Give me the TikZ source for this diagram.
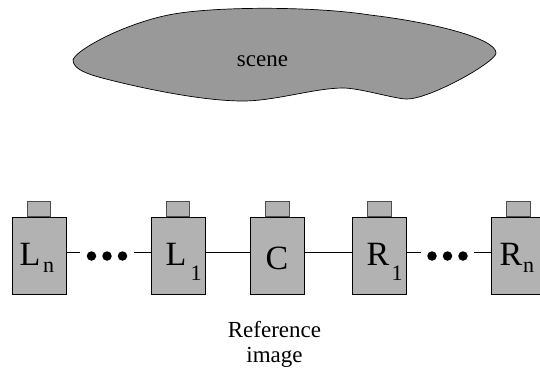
\documentclass[tikz,border=0pt]{standalone}
\usepackage{fontspec}
\setmainfont{Liberation Serif}
\usetikzlibrary{positioning}
\tikzset{
  body/.style={draw, fill=gray!60!white, line width=0.8pt, minimum width=54pt, minimum height=77pt, inner sep=0pt},
  lens/.style={draw=black!70, fill=gray!60!white, line width=0.8pt, minimum width=23.5pt, minimum height=15pt, inner sep=0pt},
  bigtext/.style={inner sep=0pt, font=\fontsize{34}{34}\selectfont},
  subtext/.style={inner sep=0pt, font=\fontsize{22}{22}\selectfont},
  plaintext/.style={inner sep=0pt, align=center, font=\fontsize{23}{25}\selectfont},
  dot/.style={circle, fill=black, minimum size=9.5pt, inner sep=0pt},
  wire/.style={line width=0.7pt}
}
\begin{document}
\begin{tikzpicture}[x=1pt,y=-1pt]
\useasboundingbox (0,0) rectangle (540,368);

%% scene
\draw[fill=gray!80!white, line width=0.7pt] (73,60)
  .. controls (75,50) and (130,20) .. (180,13)
  .. controls (230,6) and (320,7) .. (370,15)
  .. controls (430,22) and (496,38) .. (496,53)
  .. controls (496,62) and (430,99) .. (407,99)
  .. controls (395,99) and (360,88) .. (343,88)
  .. controls (315,88) and (275,101) .. (243,101)
  .. controls (205,101) and (150,90) .. (110,80)
  .. controls (90,75) and (73,70) .. (73,60) -- cycle;
\node[plaintext] (scene) at (262.5,61.5) {scene};

%% cameras
\node[body] (Ln) at (39,255.5) {};
\node[lens, above=0pt of Ln] (LnTop) {};
\node[body] (Lone) at (178,255.5) {};
\node[lens, above=0pt of Lone] (LoneTop) {};
\node[body] (C) at (277.5,255.5) {};
\node[lens, above=0pt of C] (CTop) {};
\node[body] (Rone) at (379.5,255.5) {};
\node[lens, above=0pt of Rone] (RoneTop) {};
\node[body] (Rn) at (518.5,255.5) {};
\node[lens, above=0pt of Rn] (RnTop) {};

%% letters
\node[bigtext] (LnA) at (30,254) {L};
\node[subtext] (LnB) at (48.7,267) {n};
\node[bigtext] (LoneA) at (176,254) {L};
\node[subtext] (LoneB) at (196,273) {1};
\node[bigtext] (CA) at (277,258) {C};
\node[bigtext] (RoneA) at (378,254) {R};
\node[subtext] (RoneB) at (397,273) {1};
\node[bigtext] (RnA) at (511,254) {R};
\node[subtext] (RnB) at (528.5,267) {n};

%% dots
\foreach \name/\xpos in {a/91.5,b/107,c/122.5,d/432,e/447.5,f/463}{
  \node[dot] (\name) at (\xpos,256) {};
}

%% links
\coordinate (LnEnd) at (80,252);
\coordinate (LoneEnd) at (134,252);
\coordinate (RoneEnd) at (421,252);
\coordinate (RnEnd) at (474,252);
\draw[wire] (Ln.east |- LnEnd) -- (LnEnd);
\draw[wire] (LoneEnd) -- (Lone.west |- LoneEnd);
\draw[wire] (Lone.east |- LnEnd) -- (C.west |- LnEnd);
\draw[wire] (C.east |- LnEnd) -- (Rone.west |- LnEnd);
\draw[wire] (Rone.east |- RoneEnd) -- (RoneEnd);
\draw[wire] (RnEnd) -- (Rn.west |- RnEnd);

\node[plaintext] (ref) at (274.5,344.5) {Reference\\image};
\end{tikzpicture}
\end{document}
